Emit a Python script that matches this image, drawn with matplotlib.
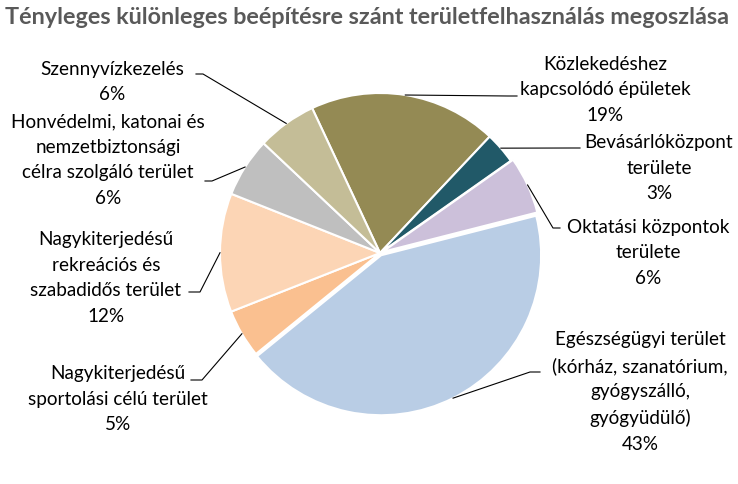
import numpy as np
import matplotlib.pyplot as plt

categories = [
    "Közlekedéshez\nkapcsolódó épületek",
    "Bevásárlóközpont\nterülete",
    "Oktatási központok\nterülete",
    "Egészségügyi terület\n(kórház, szanatórium,\ngyógyszálló,\ngyógyüdülő)",
    "Nagykiterjedésű\nsportolási célú terület",
    "Nagykiterjedésű\nrekreációs és\nszabadidős terület",
    "Honvédelmi, katonai és\nnemzetbiztonsági\ncélra szolgáló terület",
    "Szennyvízkezelés",
]
values = [19.0, 3.2, 5.8, 43.1, 4.9, 12.0, 6.0, 6.0]
colors = ["#948A54", "#215968", "#CCC0DA", "#B9CDE5",
          "#FAC090", "#FCD5B5", "#BFBFBF", "#C4BD97"]

W, H = 738, 484
fig = plt.figure(figsize=(W / 100, H / 100), dpi=100)
ax = fig.add_axes([0, 0, 1, 1])

cx, cy, r = 380, H - 253, 160
explode = [0, 0, 2.5, 2.5, 0, 0, 0, 0]
wedges, _ = ax.pie(values, colors=colors, startangle=115.1, counterclock=False,
                   center=(cx, cy), radius=r, explode=explode, frame=True,
                   wedgeprops=dict(edgecolor="white", linewidth=1.5))
ax.set_xlim(0, W)
ax.set_ylim(0, H)
ax.set_aspect("equal")
ax.axis("off")

# label text centre (x, y from top) and leader knee / end (y from top)
label_pos = [(605, 90), (659, 168), (648, 253), (640, 392),
             (118, 399), (106, 278), (108, 160), (112, 82)]
knees = [((508, 96), (517, 96)), ((572, 148), (580, 148)),
         ((553, 228), (560, 228)), ((530, 372), (540, 372)),
         ((202, 380), (191, 380)), ((200, 292), (189, 292)),
         ((212, 181), (205, 181)), ((203, 74), (196, 74))]

font = ["Lato", "DejaVu Sans"]
for w, v, cat, (tx, ty), (k1, k2) in zip(wedges, values, categories, label_pos, knees):
    ang = np.deg2rad((w.theta1 + w.theta2) / 2)
    ex = w.center[0] + r * np.cos(ang)
    ey = w.center[1] + r * np.sin(ang)
    ax.plot([ex, k1[0], k2[0]], [ey, H - k1[1], H - k2[1]],
            color="#000000", linewidth=0.8)
    ax.text(tx, H - ty, f"{cat}\n{v:.0f}%", ha="center", va="center",
            fontsize=13.6, family=font, color="#000000", linespacing=1.6)

ax.text(W / 2 - 2, H - 18, "Tényleges különleges beépítésre szánt területfelhasználás megoszlása",
        ha="center", va="center", fontsize=16.8, fontweight="bold",
        family=font, color="#595959")

fig.savefig("out.png", dpi=100)
